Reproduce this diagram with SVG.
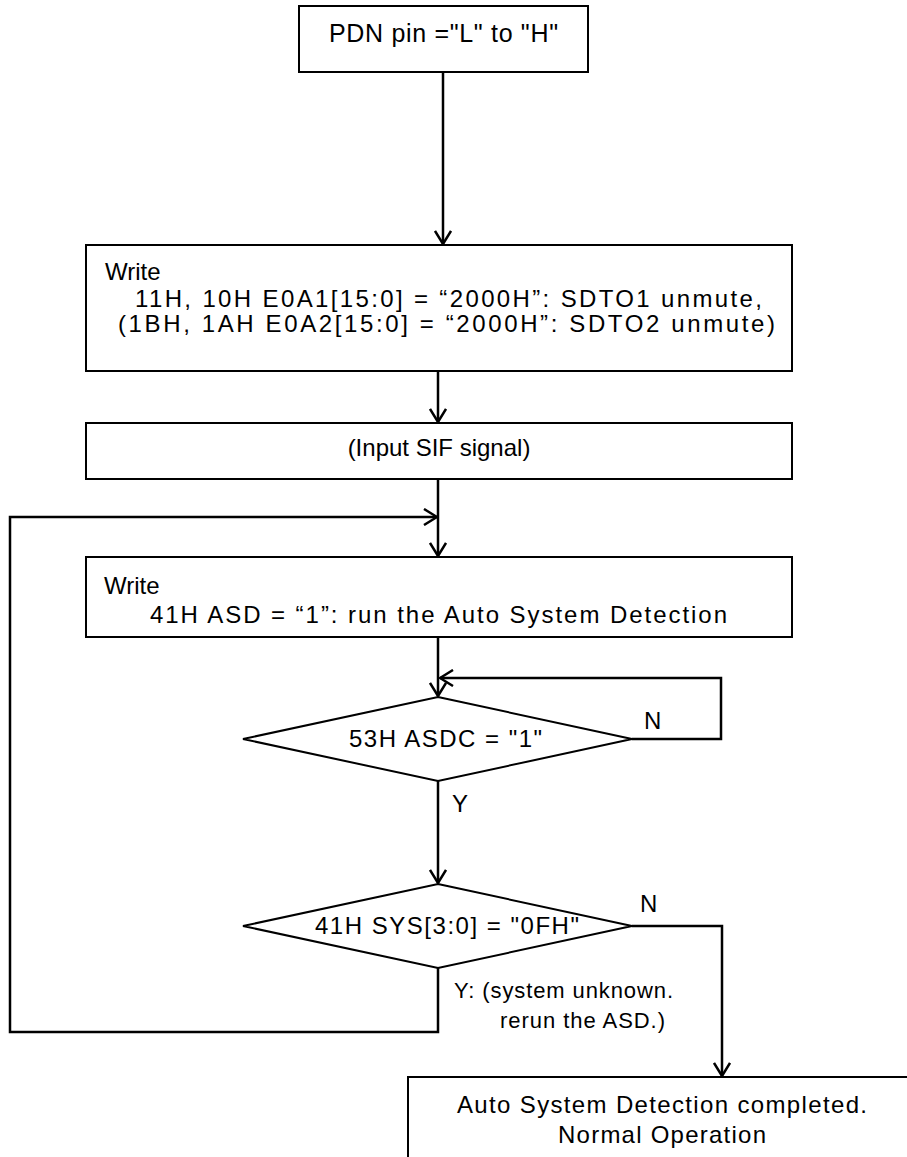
<svg xmlns="http://www.w3.org/2000/svg" width="907" height="1157" viewBox="0 0 907 1157">
<style>
text{font-family:"Liberation Sans",Arial,sans-serif;font-size:24px;fill:#000}
.box{fill:#fff;stroke:#000;stroke-width:2}
.c{fill:none;stroke:#000;stroke-width:2.5}
.m{text-anchor:middle}
</style>
<defs>
<marker id="arr" viewBox="0 0 16 18" refX="15" refY="9" markerWidth="16" markerHeight="18" markerUnits="userSpaceOnUse" orient="auto">
<path d="M2,1 L15,9 L2,17" fill="none" stroke="#000" stroke-width="2.5"/>
</marker>
</defs>
<rect width="907" height="1157" fill="#fff"/>
<g id="connectors">
<path class="c" d="M443,72 V244" marker-end="url(#arr)"/>
<path class="c" d="M438,371 V422" marker-end="url(#arr)"/>
<path class="c" d="M438,479 V556" marker-end="url(#arr)"/>
<path class="c" d="M438,968 V1032 H10 V517 H437" marker-end="url(#arr)"/>
<path class="c" d="M438,637 V696" marker-end="url(#arr)"/>
<path class="c" d="M632,739 H721 V678 H440" marker-end="url(#arr)"/>
<path class="c" d="M438,781 V883" marker-end="url(#arr)"/>
<path class="c" d="M632,926 H722 V1076" marker-end="url(#arr)"/>
</g>
<g id="n1">
<rect class="box" x="299" y="6" width="289" height="66"/>
<text x="329" y="42" style="font-size:25px" textLength="229" lengthAdjust="spacing">PDN pin ="L" to "H"</text>
</g>
<g id="n2">
<rect class="box" x="86" y="245" width="706" height="126"/>
<text x="105" y="280">Write</text>
<text x="135" y="307" textLength="627" lengthAdjust="spacing">11H, 10H E0A1[15:0] = “2000H”: SDTO1 unmute,</text>
<text x="118" y="332" textLength="657" lengthAdjust="spacing">(1BH, 1AH E0A2[15:0] = “2000H”: SDTO2 unmute)</text>
</g>
<g id="n3">
<rect class="box" x="86" y="423" width="706" height="56"/>
<text class="m" x="439" y="456">(Input SIF signal)</text>
</g>
<g id="n4">
<rect class="box" x="86" y="557" width="706" height="80"/>
<text x="104" y="594">Write</text>
<text x="150" y="623" textLength="577" lengthAdjust="spacing">41H ASD = “1”: run the Auto System Detection</text>
</g>
<g id="d1">
<polygon class="box" points="438,697 632,739 438,781 243,739"/>
<text x="349" y="747" textLength="193" lengthAdjust="spacing">53H ASDC = "1"</text>
<text x="644" y="729">N</text>
<text x="452" y="812">Y</text>
</g>
<g id="d2">
<polygon class="box" points="438,884 632,926 438,968 243,926"/>
<text x="315" y="934" textLength="264" lengthAdjust="spacing">41H SYS[3:0] = "0FH"</text>
<text x="640" y="912">N</text>
<text x="454" y="998" style="font-size:22px" textLength="219" lengthAdjust="spacing">Y: (system unknown.</text>
<text x="500" y="1028" style="font-size:22px" textLength="165" lengthAdjust="spacing">rerun the ASD.)</text>
</g>
<g id="n5">
<rect class="box" x="408" y="1077" width="600" height="200"/>
<text x="457" y="1113" textLength="410" lengthAdjust="spacing">Auto System Detection completed.</text>
<text x="558" y="1143" textLength="208" lengthAdjust="spacing">Normal Operation</text>
</g>
</svg>
